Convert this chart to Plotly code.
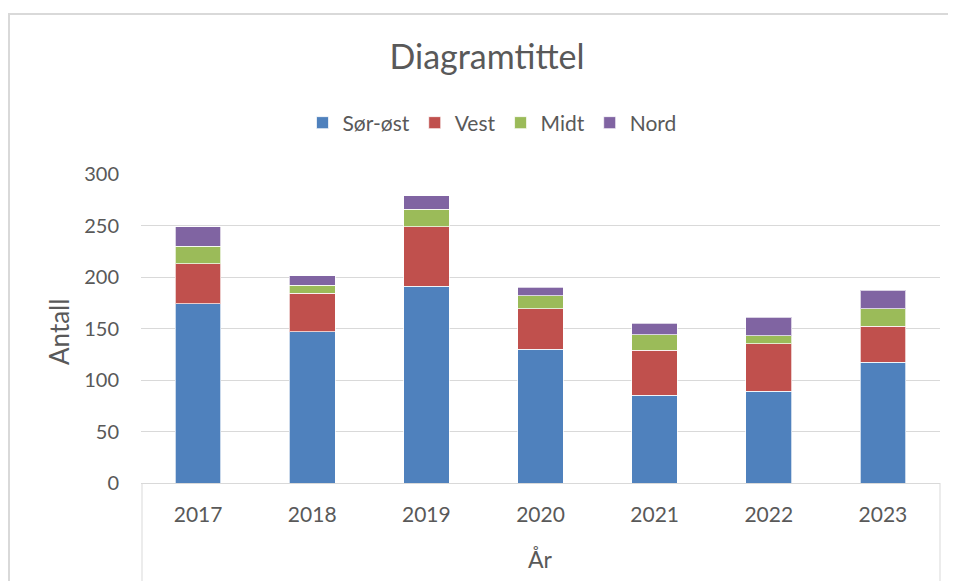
import plotly.graph_objects as go

years = ["2017", "2018", "2019", "2020", "2021", "2022", "2023"]
sor_ost = [174, 147, 191, 130, 85, 89, 117]
vest = [39, 37, 58, 39, 44, 46, 35]
midt = [17, 8, 17, 13, 15, 8, 17]
nord = [19, 9, 13, 8, 11, 18, 18]

series = [("Sør-øst", sor_ost, "#4F81BD"), ("Vest", vest, "#C0504D"),
          ("Midt", midt, "#9BBB59"), ("Nord", nord, "#8064A2")]

FONT = "Lato"
TXT = "#595959"
GRID = "#D9D9D9"

fig = go.Figure()
for name, vals, col in series:
    fig.add_trace(go.Bar(x=years, y=vals, name=name, marker_color=col,
                         marker_line=dict(color="rgba(255,255,255,0.7)", width=1)))

# page is rendered with an 8px body margin; work in figure coordinates
OFF = 8
W, H = 956, 581
L, R, T, B = 141 - OFF, W - (940 - OFF), 174 - OFF, H - (483 - OFF)
pw, ph = W - L - R, H - T - B

def px(x):  # page x -> paper
    return (x - OFF - L) / pw

def py(y):  # page y -> paper
    return (H - B - (y - OFF)) / ph

fig.update_layout(
    width=W, height=H, barmode="stack", bargap=0.6,
    margin=dict(l=L, r=R, t=T, b=B, autoexpand=False),
    paper_bgcolor="white", plot_bgcolor="white",
    font=dict(family=FONT, color=TXT, size=20),
    title=dict(text="Diagramtittel", x=(487 - OFF) / W, xanchor="center", xref="container",
               y=1 - (57 - OFF) / H, yanchor="middle", yref="container",
               font=dict(size=34, color=TXT, family=FONT)),
    legend=dict(orientation="h", x=px(492), xanchor="center", y=py(123), yanchor="middle",
                font=dict(size=21, color=TXT), itemclick=False, traceorder="normal",
                bgcolor="rgba(0,0,0,0)"),
    xaxis=dict(showgrid=False, showline=True, linecolor=GRID, linewidth=1,
               ticks="", ticklabelstandoff=13, tickfont=dict(size=21, color=TXT),
               fixedrange=True),
    yaxis=dict(range=[0, 300], dtick=50, showgrid=True, gridcolor=GRID, gridwidth=1,
               zeroline=False, showline=False, ticks="", ticklabelstandoff=21,
               tickfont=dict(size=20, color=TXT), fixedrange=True),
    showlegend=True,
)

# axis titles
fig.add_annotation(text="Antall", xref="paper", yref="paper", x=px(59), y=py(332),
                   textangle=-90, showarrow=False, font=dict(size=26, color=TXT),
                   xanchor="center", yanchor="middle")
fig.add_annotation(text="År", xref="paper", yref="paper", x=px(540), y=py(559),
                   showarrow=False, font=dict(size=23, color=TXT),
                   xanchor="center", yanchor="middle")

# category axis box (vertical lines below axis)
for xx in (142, 940):
    fig.add_shape(type="line", xref="paper", yref="paper", x0=px(xx), x1=px(xx),
                  y0=0, y1=py(600), line=dict(color=GRID, width=1))
# chart frame: left and top edges (right/bottom lie outside the picture)
fig.add_shape(type="line", xref="paper", yref="paper", x0=px(9), x1=px(9),
              y0=py(14), y1=py(640), line=dict(color=GRID, width=2), layer="below")
fig.add_shape(type="line", xref="paper", yref="paper", x0=px(8), x1=px(1000),
              y0=py(14), y1=py(14), line=dict(color=GRID, width=2), layer="below")

fig.write_html("out.html")
